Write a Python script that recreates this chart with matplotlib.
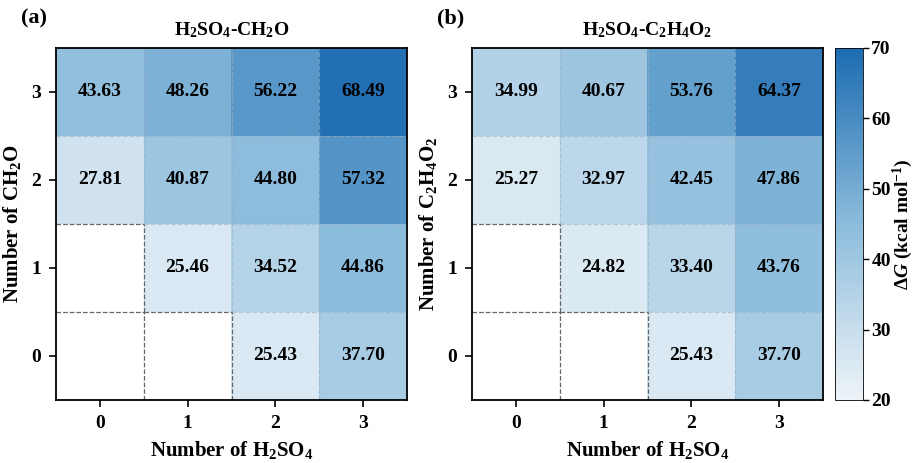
import numpy as np
import matplotlib
matplotlib.use('Agg')
from matplotlib import pyplot as plt
from matplotlib.colors import LinearSegmentedColormap

plt.rcParams['font.family'] = 'Liberation Serif'
plt.rcParams['font.weight'] = 'bold'
plt.rcParams['mathtext.fontset'] = 'custom'
plt.rcParams['mathtext.rm'] = 'Liberation Serif:bold'
plt.rcParams['mathtext.it'] = 'Liberation Serif:italic:bold'
plt.rcParams['mathtext.bf'] = 'Liberation Serif:bold'

ticks = [0, 1, 2, 3]

# rows: y = 0, 1, 2, 3
valuesA = [
    [np.nan, np.nan, 25.43, 37.70],
    [np.nan, 25.46, 34.52, 44.86],
    [27.81, 40.87, 44.80, 57.32],
    [43.63, 48.26, 56.22, 68.49],
]
valuesB = [
    [np.nan, np.nan, 25.43, 37.70],
    [np.nan, 24.82, 33.40, 43.76],
    [25.27, 32.97, 42.45, 47.86],
    [34.99, 40.67, 53.76, 64.37],
]

titles = [r'$\mathregular{H_2SO_4}$-$\mathregular{CH_2O}$',
          r'$\mathregular{H_2SO_4}$-$\mathregular{C_2H_4O_2}$']
ylabels = [r'Number of $\mathregular{CH_2O}$',
           r'Number of $\mathregular{C_2H_4O_2}$']
xlabel = r'Number of $\mathregular{H_2SO_4}$'
panels = ['(a)', '(b)']

cmap = LinearSegmentedColormap.from_list('blues_lin', ['#eef4f8', '#8cbcdc', '#1c6cb1'])
cmap.set_bad('white')

fig = plt.figure(figsize=(9.14, 4.63), dpi=100)
axA = fig.add_axes([56 / 914, 1 - 400 / 463, 351 / 914, 352 / 463])
axB = fig.add_axes([472 / 914, 1 - 400 / 463, 351 / 914, 352 / 463])
cax = fig.add_axes([835 / 914, 1 - 400 / 463, 28 / 914, 352 / 463])


def cell_grid(ax, arr):
    n = arr.shape[0]
    empty = np.isnan(arr)
    # vertical boundaries
    for k in range(n - 1):
        for r in range(n):
            dark = empty[r, k] or empty[r, k + 1]
            ax.plot([k + 0.5, k + 0.5], [r - 0.5, r + 0.5], linestyle='--',
                    color='#555555' if dark else '#9ab0c4',
                    alpha=0.9 if dark else 0.6, linewidth=0.9, zorder=2)
    # horizontal boundaries
    for k in range(n - 1):
        for c in range(n):
            dark = empty[k, c] or empty[k + 1, c]
            ax.plot([c - 0.5, c + 0.5], [k + 0.5, k + 0.5], linestyle='--',
                    color='#555555' if dark else '#9ab0c4',
                    alpha=0.9 if dark else 0.6, linewidth=0.9, zorder=2)


for ax, vals, t, yl, p in zip([axA, axB], [valuesA, valuesB], titles, ylabels, panels):
    arr = np.array(vals)
    data = np.ma.masked_invalid(arr)
    im = ax.imshow(data, origin='lower', cmap=cmap, vmin=20, vmax=70,
                   extent=(-0.5, 3.5, -0.5, 3.5), aspect='auto', zorder=1)
    cell_grid(ax, arr)
    for i in range(4):
        for j in range(4):
            v = vals[i][j]
            if not np.isnan(v):
                ax.text(j, i, '%.2f' % v, ha='center', va='center',
                        fontsize=14, fontweight='bold', color='black', zorder=3)
    ax.set_xlim(-0.5, 3.5)
    ax.set_ylim(-0.5, 3.5)
    ax.set_xticks(ticks)
    ax.set_yticks(ticks)
    ax.tick_params(labelsize=14, width=1.2, length=5, pad=6)
    for s in ax.spines.values():
        s.set_linewidth(1.3)
        s.set_zorder(4)
    ax.set_xlabel(xlabel, fontsize=15, fontweight='bold', labelpad=5)
    ax.set_ylabel(yl, fontsize=15, fontweight='bold', labelpad=6)
    ax.set_title(t, fontsize=14, fontweight='bold', pad=9)
    ax.text(-0.1, 1.055, p, transform=ax.transAxes, fontsize=16,
            fontweight='bold', ha='left', va='bottom')

cb = fig.colorbar(im, cax=cax)
cb.set_ticks([20, 30, 40, 50, 60, 70])
cb.ax.tick_params(labelsize=14, width=1, length=4, pad=2)
cb.outline.set_linewidth(0.6)
cb.set_label(r'$\Delta$$\it{G}$ (kcal mol$^{-1}$)', fontsize=14, fontweight='bold', labelpad=0)

plt.savefig('out.png', dpi=100)
